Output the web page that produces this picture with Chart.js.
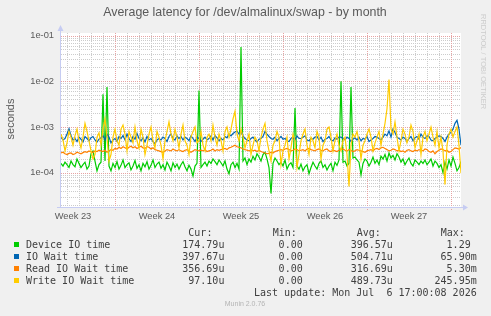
<!DOCTYPE html>
<html>
<head>
<meta charset="utf-8">
<title>Average latency for /dev/almalinux/swap - by month</title>
<script src="https://cdn.jsdelivr.net/npm/chart.js@4.4.1/dist/chart.umd.min.js"></script>
<style>
  html, body { margin: 0; padding: 0; background: #f0f0f0; }
  canvas { display: block; }
</style>
</head>
<body>
<canvas id="myChart" width="491" height="316"></canvas>
<script>
// one point every 4 hours, values in microseconds
const $hoursStep = 4;
const $weekLabels = ['Week 23', 'Week 24', 'Week 25', 'Week 26', 'Week 27'];
const $weekLabelHours = [24, 192, 360, 528, 696];
const $yTicks = [1e-4, 1e-3, 1e-2, 1e-1];

const $deviceIO = [
    160,140,170,150,130,180,150,135,200,160, 130,150,170,120,140,260,300,180,110,150,
    170,5200,180,7500,140,110,160,130,175,120, 145,190,130,150,165,115,140,185,125,150,
    110,160,135,175,120,145,190,130,155,170, 125,150,115,170,140,110,165,130,155,120,
    150,175,135,110,145,120,85,140,160,6300, 130,150,170,140,180,160,200,175,150,190,
    165,140,180,120,95,150,170,130,160,120, 56000,180,210,150,200,170,230,190,260,220,
    180,250,280,200,130,35,160,210,180,150, 170,140,190,120,150,165,130,2600,140,120,
    155,110,135,150,95,130,170,140,120,160, 180,130,150,115,140,160,110,170,145,190,
    10000,170,180,140,160,7500,210,220,190,170, 90,160,200,180,140,170,220,160,190,150,
    230,200,250,180,270,210,240,190,260,220, 170,200,150,180,210,160,140,190,170,150,
    180,160,190,150,170,200,140,180,160,130, 150,100,170,120,190,140,220,160,110,130,
    175];
const $ioWait = [
    600,520,560,700,920,640,520,560,480,600, 540,470,620,560,500,580,620,520,470,540,
    580,640,520,700,600,450,520,560,480,620, 560,650,520,700,560,480,620,540,720,560,
    500,580,470,620,520,560,480,430,520,560, 520,600,560,480,620,700,560,520,640,560,
    620,520,600,560,500,640,560,480,600,560, 480,540,600,520,560,640,520,650,580,500,
    560,520,620,580,700,640,720,780,820,700, 800,640,560,520,500,560,600,520,470,540,
    560,620,800,700,620,560,540,600,500,560, 620,540,560,500,480,560,600,520,640,560,
    560,600,640,520,500,560,540,600,620,520, 600,480,540,560,620,520,500,580,540,600,
    600,560,520,600,560,480,540,580,520,600, 500,560,540,620,480,520,560,620,600,560,
    520,600,700,640,820,600,900,760,600,560, 520,600,560,480,560,620,500,580,620,540,
    700,600,560,640,620,520,500,560,600,640, 620,560,480,600,700,760,900,1200,1400,900,
    398];
const $readWait = [
    270,280,260,250,265,270,250,260,280,270, 260,275,290,280,300,285,280,300,290,310,
    300,290,310,280,300,320,310,340,330,360, 340,370,350,330,360,380,350,370,340,360,
    380,350,340,370,360,330,350,320,310,300, 290,280,300,320,310,300,330,310,300,320,
    300,290,310,320,300,280,300,320,310,300, 310,300,320,290,300,310,330,300,320,310,
    320,330,340,320,350,360,380,400,370,360, 350,330,320,310,300,320,300,310,290,310,
    290,280,270,260,265,280,270,290,300,310, 320,310,330,340,320,300,310,330,320,300,
    310,320,300,330,340,320,310,300,320,330, 310,300,320,330,300,290,310,300,290,310,
    320,330,310,300,320,310,290,300,320,310, 300,290,280,300,310,320,300,330,340,320,
    350,360,340,320,300,310,330,320,300,310, 290,300,280,310,320,300,290,310,300,320,
    310,300,330,320,290,280,300,260,290,310, 330,320,300,310,280,290,320,350,340,330,
    357];
const $writeWait = [
    700,520,300,450,800,600,400,650,900,500, 350,600,1200,800,500,300,200,250,600,750,
    400,900,1500,600,180,250,600,900,500,400, 900,1100,700,300,800,600,450,1000,500,350,
    900,600,250,400,700,1000,500,350,800,600, 400,200,500,800,1300,700,500,900,600,350,
    700,1100,500,400,250,600,800,1000,450,500, 800,400,300,600,700,500,1100,600,400,700,
    500,300,800,1000,600,900,1500,2200,700,500, 900,600,350,500,700,250,400,600,500,300,
    600,900,1200,500,300,180,400,500,800,600, 150,300,400,600,200,350,700,500,130,250,
    500,700,900,400,250,600,500,350,800,600, 200,400,500,900,1000,600,300,500,700,400,
    300,500,600,250,50,400,700,600,800,500, 200,400,500,700,900,600,300,450,600,800,
    400,700,1200,2500,10900,900,700,1300,600,300, 500,900,700,450,600,1100,800,350,500,700,
    250,600,800,500,700,1000,600,400,800,350, 600,300,55,400,700,900,600,800,1000,400,
    97];

const $seriesNames = ['Device IO time', 'IO Wait time', 'Read IO Wait time', 'Write IO Wait time'];
const $seriesColors = ['#00cc00', '#0066b3', '#ff8000', '#ffcc00'];
const $legendCur = ['174.79u', '397.67u', '356.69u', '97.10u'];
const $legendMin = ['0.00', '0.00', '0.00', '0.00'];
const $legendAvg = ['396.57u', '504.71u', '316.69u', '489.73u'];
const $legendMax = ['1.29 ', '65.90m', '5.30m', '245.95m'];

function toPoints($values) {
    return $values.map(function($v, $i) {
        return { x: $i * $hoursStep, y: $v / 1e6 };
    });
}

function dotted($c, $x1, $y1, $x2, $y2, $color) {
    $c.strokeStyle = $color;
    $c.beginPath();
    $c.moveTo($x1, $y1);
    $c.lineTo($x2, $y2);
    $c.stroke();
}

const $muninPlugin = {
    id: 'munin',
    beforeDraw: function(chart) {
        let $c = chart.ctx;
        let $a = chart.chartArea;
        $c.save();
        $c.fillStyle = '#f0f0f0';
        $c.fillRect(0, 0, chart.width, chart.height);
        $c.fillStyle = '#ffffff';
        $c.fillRect($a.left, $a.top, $a.right - $a.left, $a.bottom - $a.top);
        $c.restore();
    },
    beforeDatasetsDraw: function(chart) {
        let $c = chart.ctx;
        let $a = chart.chartArea;
        let $xs = chart.scales.x;
        let $ys = chart.scales.y;
        $c.save();
        $c.lineWidth = 1;
        $c.setLineDash([1, 1]);
        // minor grid first, then decades and week starts
        for (let $n = -5; $n <= -1; $n++) {
            for (let $k = 2; $k <= 9; $k++) {
                let $v = $k * Math.pow(10, $n);
                if ($v < $ys.min || $v > $ys.max) continue;
                let $y = Math.round($ys.getPixelForValue($v)) + 0.5;
                dotted($c, $a.left, $y, $a.right, $y, '#cccccc');
            }
        }
        for (let $h = 12; $h <= 800; $h += 24) {
            let $x = Math.round($xs.getPixelForValue($h)) + 0.5;
            if (($h - 108) % 168 !== 0) dotted($c, $x, $a.top, $x, $a.bottom + 2, '#cccccc');
        }
        for (let $n = -5; $n <= -1; $n++) {
            let $v = Math.pow(10, $n);
            if ($v < $ys.min || $v > $ys.max) continue;
            let $y = Math.round($ys.getPixelForValue($v)) + 0.5;
            dotted($c, $a.left, $y, $a.right, $y, '#e7a3a3');
        }
        for (let $h = 108; $h <= 800; $h += 168) {
            let $x = Math.round($xs.getPixelForValue($h)) + 0.5;
            dotted($c, $x, $a.top, $x, $a.bottom + 3, '#e7a3a3');
        }
        $c.restore();
    },
    afterDraw: function(chart) {
        let $c = chart.ctx;
        let $a = chart.chartArea;
        $c.save();

        // axes with arrows
        $c.strokeStyle = '#c6ccf2';
        $c.fillStyle = '#c6ccf2';
        $c.lineWidth = 1;
        $c.beginPath();
        $c.moveTo($a.left - 0.5, $a.bottom + 1);
        $c.lineTo($a.left - 0.5, $a.top - 2);
        $c.moveTo($a.left - 4, $a.bottom + 0.5);
        $c.lineTo($a.right + 2, $a.bottom + 0.5);
        $c.stroke();
        $c.beginPath();
        $c.moveTo($a.left - 3.5, $a.top - 2);
        $c.lineTo($a.left + 2.5, $a.top - 2);
        $c.lineTo($a.left - 0.5, $a.top - 8);
        $c.closePath();
        $c.fill();
        $c.beginPath();
        $c.moveTo($a.right + 2, $a.bottom - 2.5);
        $c.lineTo($a.right + 2, $a.bottom + 3.5);
        $c.lineTo($a.right + 7, $a.bottom + 0.5);
        $c.closePath();
        $c.fill();

        // title and side texts
        $c.fillStyle = '#5a5a5a';
        $c.font = '12.4px "Liberation Sans"';
        $c.textAlign = 'center';
        $c.textBaseline = 'alphabetic';
        $c.fillText('Average latency for /dev/almalinux/swap - by month', 245, 16);

        $c.save();
        $c.translate(11, 119);
        $c.rotate(-Math.PI / 2);
        $c.font = '11px "Liberation Sans"';
        $c.textBaseline = 'middle';
        $c.fillText('seconds', 0, 0);
        $c.restore();

        $c.save();
        $c.translate(483, 14);
        $c.rotate(Math.PI / 2);
        $c.font = '7.5px "Liberation Sans"';
        $c.fillStyle = '#cccccc';
        $c.textAlign = 'left';
        $c.textBaseline = 'middle';
        $c.fillText('RRDTOOL / TOBI OETIKER', 0, 0);
        $c.restore();

        // legend
        $c.font = '10px "DejaVu Sans Mono"';
        $c.fillStyle = '#404040';
        $c.textAlign = 'right';
        $c.fillText('Cur:', 212.4, 236);
        $c.fillText('Min:', 296.8, 236);
        $c.fillText('Avg:', 380.8, 236);
        $c.fillText('Max:', 464.8, 236);
        for (let $i = 0; $i < $seriesNames.length; $i++) {
            let $base = 247.7 + 12 * $i;
            $c.fillStyle = $seriesColors[$i];
            $c.fillRect(14, 242 + 12 * $i, 5, 5);
            $c.fillStyle = '#404040';
            $c.textAlign = 'left';
            $c.fillText($seriesNames[$i], 26, $base);
            $c.textAlign = 'right';
            $c.fillText($legendCur[$i], 224.4, $base);
            $c.fillText($legendMin[$i], 302.7, $base);
            $c.fillText($legendAvg[$i], 392.8, $base);
            $c.fillText($legendMax[$i], 476.7, $base);
        }
        $c.fillText('Last update: Mon Jul  6 17:00:08 2026', 476.7, 295.7);

        $c.font = '7px "Liberation Sans"';
        $c.fillStyle = '#b4b4b4';
        $c.textAlign = 'center';
        $c.textBaseline = 'middle';
        $c.fillText('Munin 2.0.76', 245, 304);
        $c.restore();
    }
};

let $ctx = document.getElementById('myChart');
let $data = [$deviceIO, $ioWait, $readWait, $writeWait];

const $myChart = new Chart($ctx, {
    type: 'line',
    data: {
        datasets: $data.map(function($values, $i) {
            return {
                label: $seriesNames[$i],
                data: toPoints($values),
                borderColor: $seriesColors[$i],
                backgroundColor: $seriesColors[$i],
                borderWidth: 1.2,
                pointRadius: 0,
                tension: 0,
                fill: false,
                order: 4 - $i
            };
        })
    },
    options: {
        responsive: false,
        animation: false,
        devicePixelRatio: 1,
        layout: { padding: { left: 0, right: 30, top: 33, bottom: 89 } },
        plugins: {
            legend: { display: false },
            title: { display: false },
            tooltip: { enabled: false }
        },
        scales: {
            x: {
                type: 'linear',
                min: 0,
                max: 800,
                grid: { display: false, drawTicks: false },
                border: { display: false },
                afterBuildTicks: function(scale) {
                    scale.ticks = $weekLabelHours.map(function($v) { return { value: $v }; });
                },
                afterFit: function(scale) { scale.height = 20; },
                ticks: {
                    autoSkip: false,
                    maxRotation: 0,
                    padding: 4,
                    color: '#5a5a5a',
                    font: { family: 'Liberation Sans', size: 9.3 },
                    callback: function(value, index) { return $weekLabels[index]; }
                }
            },
            y: {
                type: 'logarithmic',
                min: 1.78e-5,
                max: 0.1135,
                grid: { display: false, drawTicks: false },
                border: { display: false },
                afterBuildTicks: function(scale) {
                    scale.ticks = $yTicks.map(function($v) { return { value: $v }; });
                },
                afterFit: function(scale) { scale.width = 61; },
                ticks: {
                    padding: 7,
                    color: '#5a5a5a',
                    font: { family: 'Liberation Sans', size: 9.3 },
                    callback: function(value) {
                        return '1e-' + String(Math.round(-Math.log10(value))).padStart(2, '0');
                    }
                }
            }
        }
    },
    plugins: [$muninPlugin]
});
</script>
</body>
</html>
